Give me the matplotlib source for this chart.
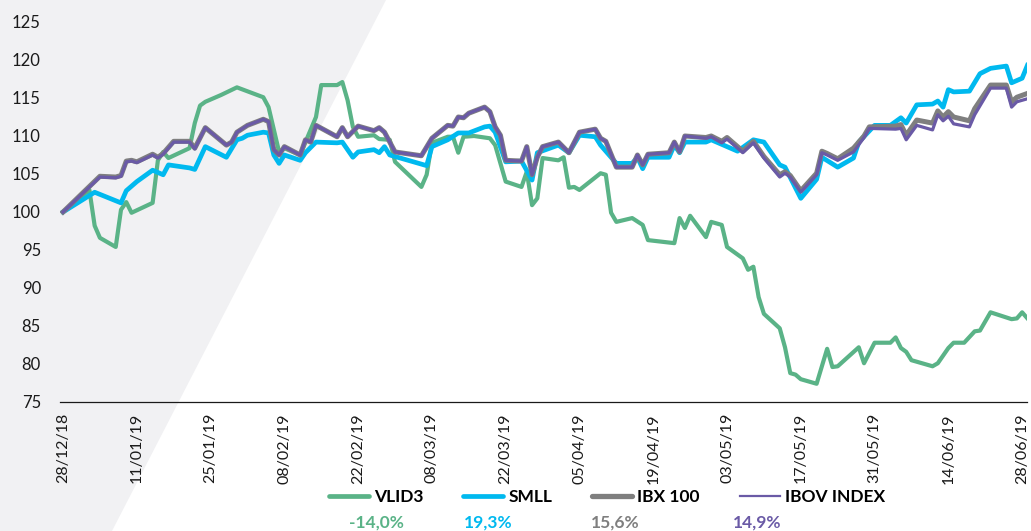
import numpy as np
import pandas as pd
import matplotlib
matplotlib.use("Agg")
import matplotlib.pyplot as plt
import matplotlib.dates as mdates
from matplotlib.lines import Line2D
from matplotlib.patches import Polygon

plt.rcParams['font.family'] = ['Lato', 'DejaVu Sans']

# ---- data (index, 28/12/18 = 100) ----
vlid3_dates = [
    "2018-12-28", "2019-01-02", "2019-01-03", "2019-01-04", "2019-01-07", "2019-01-08",
    "2019-01-09", "2019-01-10", "2019-01-14", "2019-01-15", "2019-01-16", "2019-01-17",
    "2019-01-21", "2019-01-22", "2019-01-23", "2019-01-24", "2019-01-27", "2019-01-30",
    "2019-02-04", "2019-02-05", "2019-02-07", "2019-02-08", "2019-02-11", "2019-02-12",
    "2019-02-14", "2019-02-15", "2019-02-18", "2019-02-19", "2019-02-20", "2019-02-21",
    "2019-02-22", "2019-02-25", "2019-02-26", "2019-02-28", "2019-03-01", "2019-03-06",
    "2019-03-07", "2019-03-08", "2019-03-11", "2019-03-12", "2019-03-13", "2019-03-14",
    "2019-03-16", "2019-03-19", "2019-03-20", "2019-03-22", "2019-03-25", "2019-03-26",
    "2019-03-27", "2019-03-28", "2019-03-29", "2019-04-01", "2019-04-02", "2019-04-03",
    "2019-04-04", "2019-04-05", "2019-04-09", "2019-04-10", "2019-04-11", "2019-04-12",
    "2019-04-15", "2019-04-17", "2019-04-18", "2019-04-23", "2019-04-24", "2019-04-25",
    "2019-04-26", "2019-04-29", "2019-04-30", "2019-05-02", "2019-05-03", "2019-05-06",
    "2019-05-07", "2019-05-08", "2019-05-09", "2019-05-10", "2019-05-13", "2019-05-14",
    "2019-05-15", "2019-05-16", "2019-05-17", "2019-05-20", "2019-05-22", "2019-05-23",
    "2019-05-24", "2019-05-28", "2019-05-29", "2019-05-31", "2019-06-03", "2019-06-04",
    "2019-06-05", "2019-06-06", "2019-06-07", "2019-06-11", "2019-06-12", "2019-06-14",
    "2019-06-15", "2019-06-17", "2019-06-19", "2019-06-20", "2019-06-22", "2019-06-26",
    "2019-06-27", "2019-06-28", "2019-06-29",
]
vlid3_values = [
    100.0, 102.9, 98.2, 96.6, 95.4, 100.3,
    101.3, 99.9, 101.2, 106.8, 107.9, 107.1,
    108.4, 111.7, 114.0, 114.5, 115.4, 116.4,
    115.1, 113.8, 107.9, 108.4, 107.5, 109.2,
    112.5, 116.7, 116.7, 117.1, 114.7, 111.2,
    109.9, 110.1, 109.6, 109.5, 106.6, 103.3,
    104.9, 109.1, 109.9, 109.9, 107.8, 109.9,
    110.0, 109.7, 108.8, 104.0, 103.3, 105.3,
    100.9, 101.8, 107.1, 106.8, 107.2, 103.2,
    103.3, 102.9, 105.1, 104.9, 99.9, 98.7,
    99.2, 98.3, 96.3, 95.9, 99.2, 97.9,
    99.5, 96.7, 98.7, 98.3, 95.4, 93.9,
    92.4, 92.8, 88.8, 86.6, 84.7, 82.2,
    78.8, 78.6, 78.0, 77.4, 82.0, 79.6,
    79.7, 82.2, 80.1, 82.8, 82.8, 83.5,
    82.1, 81.6, 80.5, 79.7, 80.1, 82.1,
    82.8, 82.8, 84.3, 84.4, 86.8, 85.9,
    86.0, 86.8, 86.0,
]

smll_dates = [
    "2018-12-28", "2019-01-03", "2019-01-08", "2019-01-09", "2019-01-11", "2019-01-14",
    "2019-01-16", "2019-01-17", "2019-01-21", "2019-01-22", "2019-01-24", "2019-01-28",
    "2019-01-30", "2019-01-31", "2019-02-01", "2019-02-04", "2019-02-05", "2019-02-06",
    "2019-02-07", "2019-02-08", "2019-02-11", "2019-02-12", "2019-02-14", "2019-02-18",
    "2019-02-19", "2019-02-21", "2019-02-22", "2019-02-25", "2019-02-26", "2019-02-27",
    "2019-02-28", "2019-03-07", "2019-03-08", "2019-03-11", "2019-03-13", "2019-03-15",
    "2019-03-18", "2019-03-19", "2019-03-20", "2019-03-22", "2019-03-25", "2019-03-27",
    "2019-03-28", "2019-04-01", "2019-04-03", "2019-04-05", "2019-04-08", "2019-04-09",
    "2019-04-12", "2019-04-15", "2019-04-16", "2019-04-17", "2019-04-18", "2019-04-22",
    "2019-04-23", "2019-04-24", "2019-04-25", "2019-04-29", "2019-04-30", "2019-05-05",
    "2019-05-08", "2019-05-10", "2019-05-13", "2019-05-14", "2019-05-17", "2019-05-20",
    "2019-05-21", "2019-05-24", "2019-05-27", "2019-05-28", "2019-05-31", "2019-06-03",
    "2019-06-05", "2019-06-06", "2019-06-08", "2019-06-11", "2019-06-12", "2019-06-13",
    "2019-06-14", "2019-06-15", "2019-06-18", "2019-06-20", "2019-06-22", "2019-06-25",
    "2019-06-26", "2019-06-28", "2019-06-29",
]
smll_values = [
    100.0, 102.6, 101.2, 102.8, 104.0, 105.5,
    104.9, 106.2, 105.8, 105.6, 108.6, 107.2,
    109.5, 109.7, 110.1, 110.5, 110.4, 107.5,
    106.4, 107.5, 106.8, 107.8, 109.2, 109.1,
    109.2, 107.2, 107.9, 108.2, 107.8, 108.6,
    107.5, 106.1, 108.6, 109.5, 110.4, 110.4,
    111.2, 111.3, 110.5, 106.6, 106.7, 104.2,
    107.8, 108.8, 107.8, 110.1, 109.9, 108.8,
    106.4, 106.4, 107.2, 105.7, 107.2, 107.2,
    108.8, 107.8, 109.2, 109.2, 109.5, 108.0,
    109.5, 109.2, 106.2, 105.9, 101.8, 104.3,
    107.2, 105.9, 107.1, 109.2, 111.4, 111.4,
    112.4, 111.7, 114.1, 114.2, 114.6, 113.8,
    116.1, 115.8, 115.9, 118.2, 118.9, 119.2,
    117.0, 117.6, 119.3,
]

index_dates = [
    "2018-12-28", "2019-01-04", "2019-01-07", "2019-01-08", "2019-01-09", "2019-01-10",
    "2019-01-11", "2019-01-14", "2019-01-15", "2019-01-16", "2019-01-18", "2019-01-21",
    "2019-01-22", "2019-01-24", "2019-01-28", "2019-01-29", "2019-01-30", "2019-02-01",
    "2019-02-04", "2019-02-05", "2019-02-06", "2019-02-07", "2019-02-08", "2019-02-11",
    "2019-02-12", "2019-02-13", "2019-02-14", "2019-02-18", "2019-02-19", "2019-02-20",
    "2019-02-22", "2019-02-25", "2019-02-26", "2019-02-27", "2019-03-01", "2019-03-06",
    "2019-03-08", "2019-03-11", "2019-03-12", "2019-03-13", "2019-03-14", "2019-03-15",
    "2019-03-18", "2019-03-19", "2019-03-20", "2019-03-21", "2019-03-22", "2019-03-25",
    "2019-03-26", "2019-03-27", "2019-03-28", "2019-03-29", "2019-04-01", "2019-04-03",
    "2019-04-05", "2019-04-08", "2019-04-09", "2019-04-10", "2019-04-12", "2019-04-15",
    "2019-04-16", "2019-04-17", "2019-04-18", "2019-04-22", "2019-04-23", "2019-04-24",
    "2019-04-25", "2019-04-29", "2019-04-30", "2019-05-02", "2019-05-03", "2019-05-06",
    "2019-05-08", "2019-05-10", "2019-05-13", "2019-05-14", "2019-05-15", "2019-05-17",
    "2019-05-20", "2019-05-21", "2019-05-22", "2019-05-24", "2019-05-27", "2019-05-29",
    "2019-05-30", "2019-06-04", "2019-06-05", "2019-06-06", "2019-06-08", "2019-06-11",
    "2019-06-12", "2019-06-13", "2019-06-14", "2019-06-15", "2019-06-18", "2019-06-19",
    "2019-06-22", "2019-06-25", "2019-06-26", "2019-06-27", "2019-06-29",
]
ibov_values = [
    100.0, 104.6, 104.5, 104.7, 106.6, 106.7,
    106.5, 107.5, 107.1, 107.6, 109.2, 109.2,
    108.3, 111.1, 108.8, 109.2, 110.5, 111.4,
    112.2, 111.9, 108.2, 107.5, 108.6, 107.5,
    109.5, 109.2, 111.4, 109.9, 111.1, 109.9,
    111.3, 110.7, 111.1, 110.5, 107.9, 107.4,
    109.7, 111.4, 111.3, 112.5, 112.4, 113.0,
    113.8, 113.2, 111.2, 110.1, 106.8, 106.7,
    108.6, 104.9, 107.2, 108.6, 109.2, 107.8,
    110.5, 110.9, 109.7, 109.3, 105.9, 105.9,
    107.5, 106.2, 107.6, 107.8, 109.2, 107.9,
    110.0, 109.7, 109.9, 109.1, 109.6, 107.8,
    109.1, 107.1, 104.6, 105.1, 104.6, 102.6,
    104.9, 107.8, 107.5, 106.8, 107.9, 109.8,
    111.0, 110.9, 111.0, 109.5, 111.4, 110.8,
    112.8, 112.0, 112.6, 111.6, 111.2, 112.8,
    116.3, 116.3, 113.8, 114.5, 114.9,
]
ibx_values = [
    100.0, 104.7, 104.6, 104.8, 106.7, 106.8,
    106.6, 107.6, 107.2, 107.7, 109.3, 109.3,
    108.4, 111.1, 108.8, 109.2, 110.5, 111.4,
    112.2, 111.9, 108.2, 107.5, 108.6, 107.5,
    109.5, 109.2, 111.4, 109.9, 111.1, 109.9,
    111.3, 110.7, 111.1, 110.5, 107.9, 107.4,
    109.7, 111.4, 111.3, 112.5, 112.4, 113.0,
    113.8, 113.2, 111.2, 110.1, 106.8, 106.7,
    108.6, 104.9, 107.2, 108.6, 109.2, 107.8,
    110.5, 110.9, 109.7, 109.3, 105.9, 105.9,
    107.5, 106.2, 107.6, 107.8, 109.2, 107.9,
    110.0, 109.8, 110.0, 109.3, 109.8, 108.0,
    109.3, 107.3, 104.9, 105.3, 104.8, 102.8,
    105.1, 108.0, 107.7, 107.0, 108.4, 110.0,
    111.2, 111.3, 111.5, 110.1, 112.1, 111.7,
    113.3, 112.5, 113.2, 112.5, 112.0, 113.6,
    116.7, 116.7, 114.5, 115.1, 115.6,
]

series_names = ["VLID3", "SMLL", "IBX 100", "IBOV INDEX"]
series_colors = ["#5ab387", "#00b9ef", "#7f7f7f", "#6a5aa6"]
period_returns = ["-14,0%", "19,3%", "15,6%", "14,9%"]

# ---- figure ----
fig = plt.figure(figsize=(10.31, 5.31), dpi=100)
fig.patch.set_facecolor("white")

# light grey diagonal band in the background
band = Polygon([(0, 1), (386 / 1031, 1), (112 / 1031, 0), (0, 0)],
               closed=True, transform=fig.transFigure,
               facecolor="#f1f1f3", edgecolor="none", zorder=-5)
fig.add_artist(band)

ax = fig.add_axes([60.4 / 1031, 1 - 402 / 531, 967 / 1031, 380 / 531])
ax.patch.set_alpha(0)

ax.plot(pd.to_datetime(vlid3_dates), vlid3_values, color=series_colors[0],
        lw=3.0, solid_joinstyle="round", zorder=2)
ax.plot(pd.to_datetime(smll_dates), smll_values, color=series_colors[1],
        lw=3.4, solid_joinstyle="round", zorder=3)
ax.plot(pd.to_datetime(index_dates), ibx_values, color=series_colors[2],
        lw=3.6, solid_joinstyle="round", zorder=4)
ax.plot(pd.to_datetime(index_dates), ibov_values, color=series_colors[3],
        lw=2.3, solid_joinstyle="round", zorder=5)

ax.set_ylim(75, 125)
ax.set_yticks(np.arange(75, 126, 5))
ax.set_xlim(pd.Timestamp("2018-12-27 12:00"), pd.Timestamp("2019-06-29"))
ax.set_xticks(pd.date_range("2018-12-28", "2019-06-28", freq="14D"))
ax.xaxis.set_major_formatter(mdates.DateFormatter("%d/%m/%y"))

for side in ["top", "right", "left"]:
    ax.spines[side].set_visible(False)
ax.spines["bottom"].set_color("#1a1a1a")
ax.spines["bottom"].set_linewidth(0.9)

ax.tick_params(axis="y", length=0, pad=14, labelsize=12, labelcolor="#1a1a1a")
ax.tick_params(axis="x", length=0, pad=8, labelsize=11.5, labelcolor="#1a1a1a",
               labelrotation=90)
for lbl in ax.get_xticklabels():
    lbl.set_verticalalignment("top")

# ---- legend ----
handles = [
    Line2D([], [], color=series_colors[0], lw=3.4, solid_capstyle="round"),
    Line2D([], [], color=series_colors[1], lw=3.4, solid_capstyle="round"),
    Line2D([], [], color=series_colors[2], lw=3.8, solid_capstyle="round"),
    Line2D([], [], color=series_colors[3], lw=1.6),
]
fig.legend(handles, series_names, ncol=4, loc="center",
           bbox_to_anchor=(607 / 1031, 1 - 497 / 531), frameon=False,
           prop={"weight": "bold", "size": 12.5}, handlelength=2.3,
           handletextpad=0.3, columnspacing=2.3, borderpad=0, borderaxespad=0)

ret_x = [376, 488, 615, 757]
for xp, txt, col in zip(ret_x, period_returns, series_colors):
    fig.text(xp / 1031, 1 - 523 / 531, txt, color=col, fontsize=12.5,
             fontweight="bold", ha="center", va="center")

fig.savefig("out.png", dpi=100)
